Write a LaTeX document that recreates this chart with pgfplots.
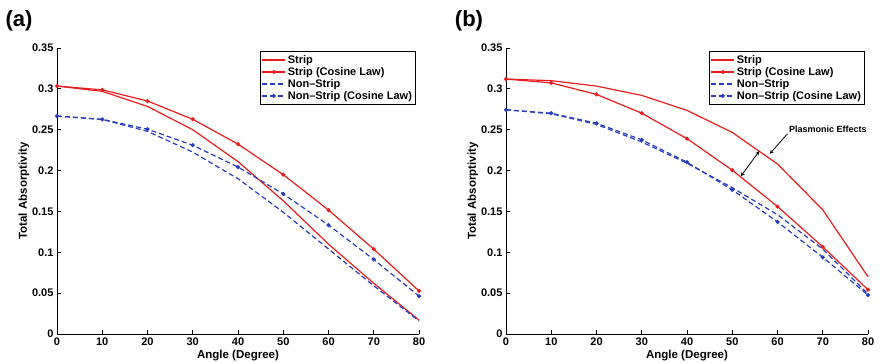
\documentclass[border=0pt]{standalone}
\usepackage{fontspec}
\setmainfont{Liberation Sans}
\usepackage{pgfplots}
\pgfplotsset{compat=1.18}
\definecolor{mred}{RGB}{228,30,30}
\definecolor{mblue}{RGB}{40,60,190}
\pgfplotsset{
 myax/.style={
  scale only axis, width=362pt, height=286pt,
  xmin=0,xmax=80,ymin=0,ymax=0.35,
  xtick={0,10,20,30,40,50,60,70,80},
  ytick={0,0.05,0.1,0.15,0.2,0.25,0.3,0.35},
  axis x line*=bottom, axis y line*=left,
  axis line style={-, line width=0.9pt},
  tick align=inside, major tick length=4pt, tick style={line width=0.9pt, black},
  /pgf/number format/assume math mode=true,
  yticklabel style={/pgf/number format/fixed, /pgf/number format/precision=2},
  ticklabel style={font=\bfseries\fontsize{11}{13}\selectfont},
  label style={font=\bfseries\fontsize{11.5}{13}\selectfont},
  xlabel={Angle (Degree)}, ylabel={Total Absorptivity},
  xlabel style={yshift=2pt},
  ylabel style={yshift=-4pt},
  legend style={at={(rel axis cs:0.992,0.989)}, anchor=north east, draw=black,
    line width=1.3pt, font=\bfseries\fontsize{11}{12}\selectfont, inner sep=1.5pt,
    row sep=-1.5pt, cells={anchor=west}},
  legend cell align=left,
  legend image code/.code={\draw[mark repeat=2,mark phase=2] plot coordinates {(0pt,0pt) (11.5pt,0pt) (23pt,0pt)};},
  clip=false,
 },
 strip/.style={mred, line width=1.2pt, no marks},
 stripcos/.style={mred, line width=1.2pt, mark=*, mark size=1.4pt},
 non/.style={mblue, line width=1.2pt, dash pattern=on 5pt off 3pt, no marks},
 noncos/.style={mblue, line width=1.2pt, dash pattern=on 5pt off 3pt, mark=*, mark size=1.4pt, mark options={solid}},
}
\begin{document}
\begin{tikzpicture}[x=1pt,y=1pt]
\useasboundingbox (0,0) rectangle (880,363);
\node[font=\bfseries\fontsize{22}{24}\selectfont] at (19,342) {(a)};
\node[font=\bfseries\fontsize{22}{24}\selectfont] at (469,342) {(b)};
\begin{axis}[myax, at={(57pt,29pt)}, anchor=south west]
\addplot[strip] coordinates {(0,0.3034) (10,0.297) (20,0.2785) (30,0.250) (40,0.211) (50,0.163) (60,0.110) (70,0.062) (80,0.017)};
\addlegendentry{Strip}
\addplot[stripcos] coordinates {(0,0.3034) (10,0.2988) (20,0.2851) (30,0.2628) (40,0.2324) (50,0.1950) (60,0.1517) (70,0.1038) (80,0.0527)};
\addlegendentry{Strip (Cosine Law)}
\addplot[non] coordinates {(0,0.2667) (10,0.2626) (20,0.248) (30,0.2226) (40,0.190) (50,0.149) (60,0.104) (70,0.059) (80,0.016)};
\addlegendentry{Non\textendash Strip}
\addplot[noncos] coordinates {(0,0.2667) (10,0.2626) (20,0.2506) (30,0.2310) (40,0.2043) (50,0.1714) (60,0.1333) (70,0.0912) (80,0.0463)};
\addlegendentry{Non\textendash Strip (Cosine Law)}
\end{axis}
\begin{axis}[myax, at={(506pt,29pt)}, anchor=south west]
\addplot[strip] coordinates {(0,0.312) (10,0.310) (20,0.3034) (30,0.292) (40,0.2736) (50,0.2467) (60,0.208) (70,0.152) (80,0.070)};
\addlegendentry{Strip}
\addplot[stripcos] coordinates {(0,0.312) (10,0.3073) (20,0.2932) (30,0.2702) (40,0.2390) (50,0.2005) (60,0.1560) (70,0.1067) (80,0.0542)};
\addlegendentry{Strip (Cosine Law)}
\addplot[non] coordinates {(0,0.2744) (10,0.2695) (20,0.2565) (30,0.235) (40,0.209) (50,0.179) (60,0.146) (70,0.104) (80,0.049)};
\addlegendentry{Non\textendash Strip}
\addplot[noncos] coordinates {(0,0.2744) (10,0.2702) (20,0.2579) (30,0.2376) (40,0.2102) (50,0.1764) (60,0.1372) (70,0.0939) (80,0.0476)};
\addlegendentry{Non\textendash Strip (Cosine Law)}
\draw[<->, >=stealth, line width=0.8pt] (axis cs:51.9,0.193) -- (axis cs:55.96,0.2238);
\draw[->, >=stealth, line width=0.8pt] (axis cs:62.2,0.245) -- (axis cs:58.3,0.2205);
\node[anchor=west, font=\bfseries\fontsize{9}{10}\selectfont, inner sep=0pt] at (axis cs:62.5,0.25) {Plasmonic Effects};
\end{axis}
\end{tikzpicture}
\end{document}
